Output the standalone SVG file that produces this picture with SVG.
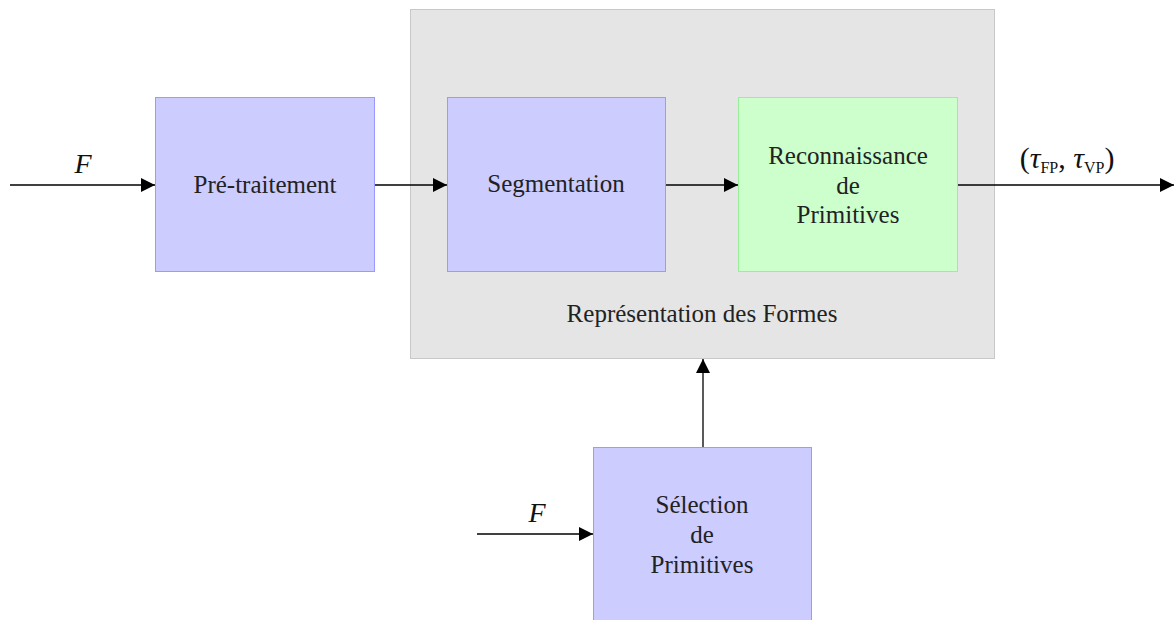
<svg xmlns="http://www.w3.org/2000/svg" width="1174" height="620" viewBox="0 0 1174 620">
<style>
.blue{fill:#ccccff;stroke:#9999ff;stroke-width:1}
.green{fill:#ccffcc;stroke:#99ee99;stroke-width:1}
.grey{fill:#e5e5e5;stroke:#c8c8c8;stroke-width:1}
.conn{stroke:#000;stroke-width:1.3;fill:none;marker-end:url(#ah)}
</style>
<defs>
<marker id="ah" viewBox="0 0 14 14" refX="14" refY="7" markerWidth="14" markerHeight="14" markerUnits="userSpaceOnUse" orient="auto">
<path d="M0,0 L14,7 L0,14 Z" fill="#000"/>
</marker>
</defs>
<rect width="1174" height="620" fill="#fff"/>
<g font-family="'Liberation Serif', 'DejaVu Serif', serif" font-size="25" fill="#222" text-anchor="middle">
<g id="representation">
<rect class="grey" x="410.5" y="9.5" width="584" height="349"/>
<text x="702" y="322">Représentation des Formes</text>
</g>
<g id="pretraitement">
<rect class="blue" x="155.5" y="97.5" width="219" height="174"/>
<text x="265" y="193">Pré-traitement</text>
</g>
<g id="segmentation">
<rect class="blue" x="447.5" y="97.5" width="218" height="174"/>
<text x="556" y="192">Segmentation</text>
</g>
<g id="reconnaissance">
<rect class="green" x="738.5" y="97.5" width="219" height="174"/>
<text x="848" y="164">Reconnaissance</text>
<text x="848" y="194">de</text>
<text x="848" y="223">Primitives</text>
</g>
<g id="selection">
<rect class="blue" x="593.5" y="447.5" width="218" height="180"/>
<text x="702" y="513">Sélection</text>
<text x="702" y="543">de</text>
<text x="702" y="573">Primitives</text>
</g>
<g id="connectors">
<line class="conn" x1="10" y1="185" x2="155" y2="185"/>
<line class="conn" x1="375" y1="185" x2="447" y2="185"/>
<line class="conn" x1="666" y1="185" x2="738" y2="185"/>
<line class="conn" x1="958" y1="185" x2="1174" y2="185"/>
<line class="conn" x1="703" y1="447" x2="703" y2="359"/>
<line class="conn" x1="477" y1="534" x2="593" y2="534"/>
</g>
<g id="labels" fill="#111">
<text x="83" y="173" font-style="italic" font-size="28">F</text>
<text x="537" y="522" font-style="italic" font-size="28">F</text>
<text x="1067" y="168" font-size="30">(<tspan font-style="italic">τ</tspan><tspan font-size="16" dy="5">FP</tspan><tspan dy="-5">,  </tspan><tspan font-style="italic">τ</tspan><tspan font-size="16" dy="5">VP</tspan><tspan dy="-5">)</tspan></text>
</g>
</g>
</svg>
